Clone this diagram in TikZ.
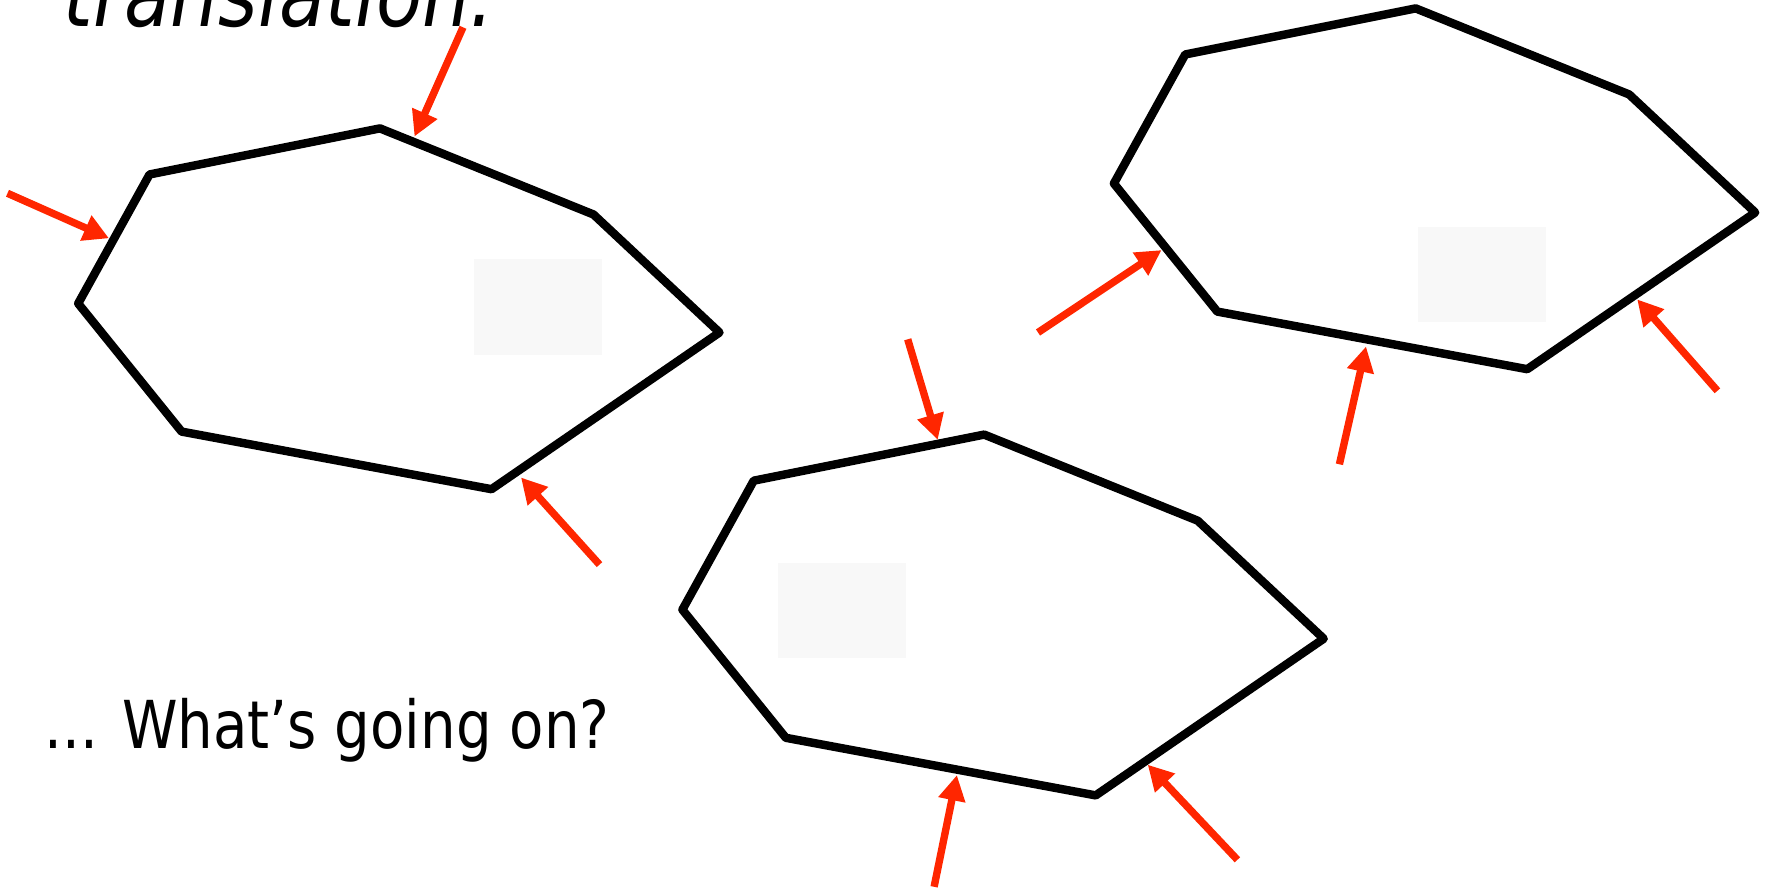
\documentclass[tikz,border=0pt]{standalone}
\usepackage{fontspec}
\setmainfont{DejaVu Sans}
\usetikzlibrary{arrows.meta}
\definecolor{arrred}{RGB}{255,38,0}
\definecolor{boxgray}{RGB}{248,248,248}
\begin{document}
\begin{tikzpicture}[x=0.01cm,y=-0.01cm,
  polyline/.style={line width=2.4pt, line join=round},
  redarrow/.style={draw=arrred, line width=2.1pt, -{Triangle[length=7.2pt,width=7.4pt]}},
  greybox/.style={fill=boxgray, draw=none},
  txt/.style={anchor=base west, inner sep=0pt}]
\useasboundingbox (0,0) rectangle (1767,889);

% grey boxes
\fill[greybox] (474.2,259.1) rectangle (601.9,355);
\fill[greybox] (1417.6,226.6) rectangle (1545.5,322.5);
\fill[greybox] (777.8,563.4) rectangle (905.5,658.4);

% polygons
\newcommand{\heptashape}{(149.5,174.5) -- (380,128.4) -- (593.5,214.5) -- (719.5,332.5) -- (491.5,489.2) -- (181.6,431.6) -- (78.2,303.5) -- cycle}
\draw[polyline] \heptashape;
\begin{scope}[shift={(1035.7,-120)}]
\draw[polyline] \heptashape;
\end{scope}
\begin{scope}[shift={(604.2,306.2)}]
\draw[polyline] \heptashape;
\end{scope}

% texts
\node[txt, font=\fontsize{25.6pt}{30pt}\selectfont\itshape] (title) at (63,27) {\scalebox{0.84}[1]{translation:}};
\node[txt, font=\fontsize{18.8pt}{22pt}\selectfont] (question) at (44,749) {\scalebox{0.85}[1]{... What’s going on?}};

% arrows
\coordinate (a1s) at (7.5,193.3);   \coordinate (a1e) at (109,238.3);
\coordinate (a2s) at (463,27.3);    \coordinate (a2e) at (414.5,136.5);
\coordinate (a3s) at (599.5,564.6); \coordinate (a3e) at (521,477.5);
\coordinate (a4s) at (907.7,339.3); \coordinate (a4e) at (937.7,439.8);
\coordinate (a5s) at (1038,332.5);  \coordinate (a5e) at (1161.5,250.1);
\coordinate (a6s) at (1339.4,464.3);\coordinate (a6e) at (1366,346.5);
\coordinate (a7s) at (1717.4,390.8);\coordinate (a7e) at (1637.2,299.4);
\coordinate (a8s) at (934.1,886.8); \coordinate (a8e) at (956.9,775.1);
\coordinate (a9s) at (1237.4,859.8);\coordinate (a9e) at (1147.7,764.7);
\foreach \k in {1,...,9} {\draw[redarrow] (a\k s) -- (a\k e);}
\end{tikzpicture}
\end{document}
